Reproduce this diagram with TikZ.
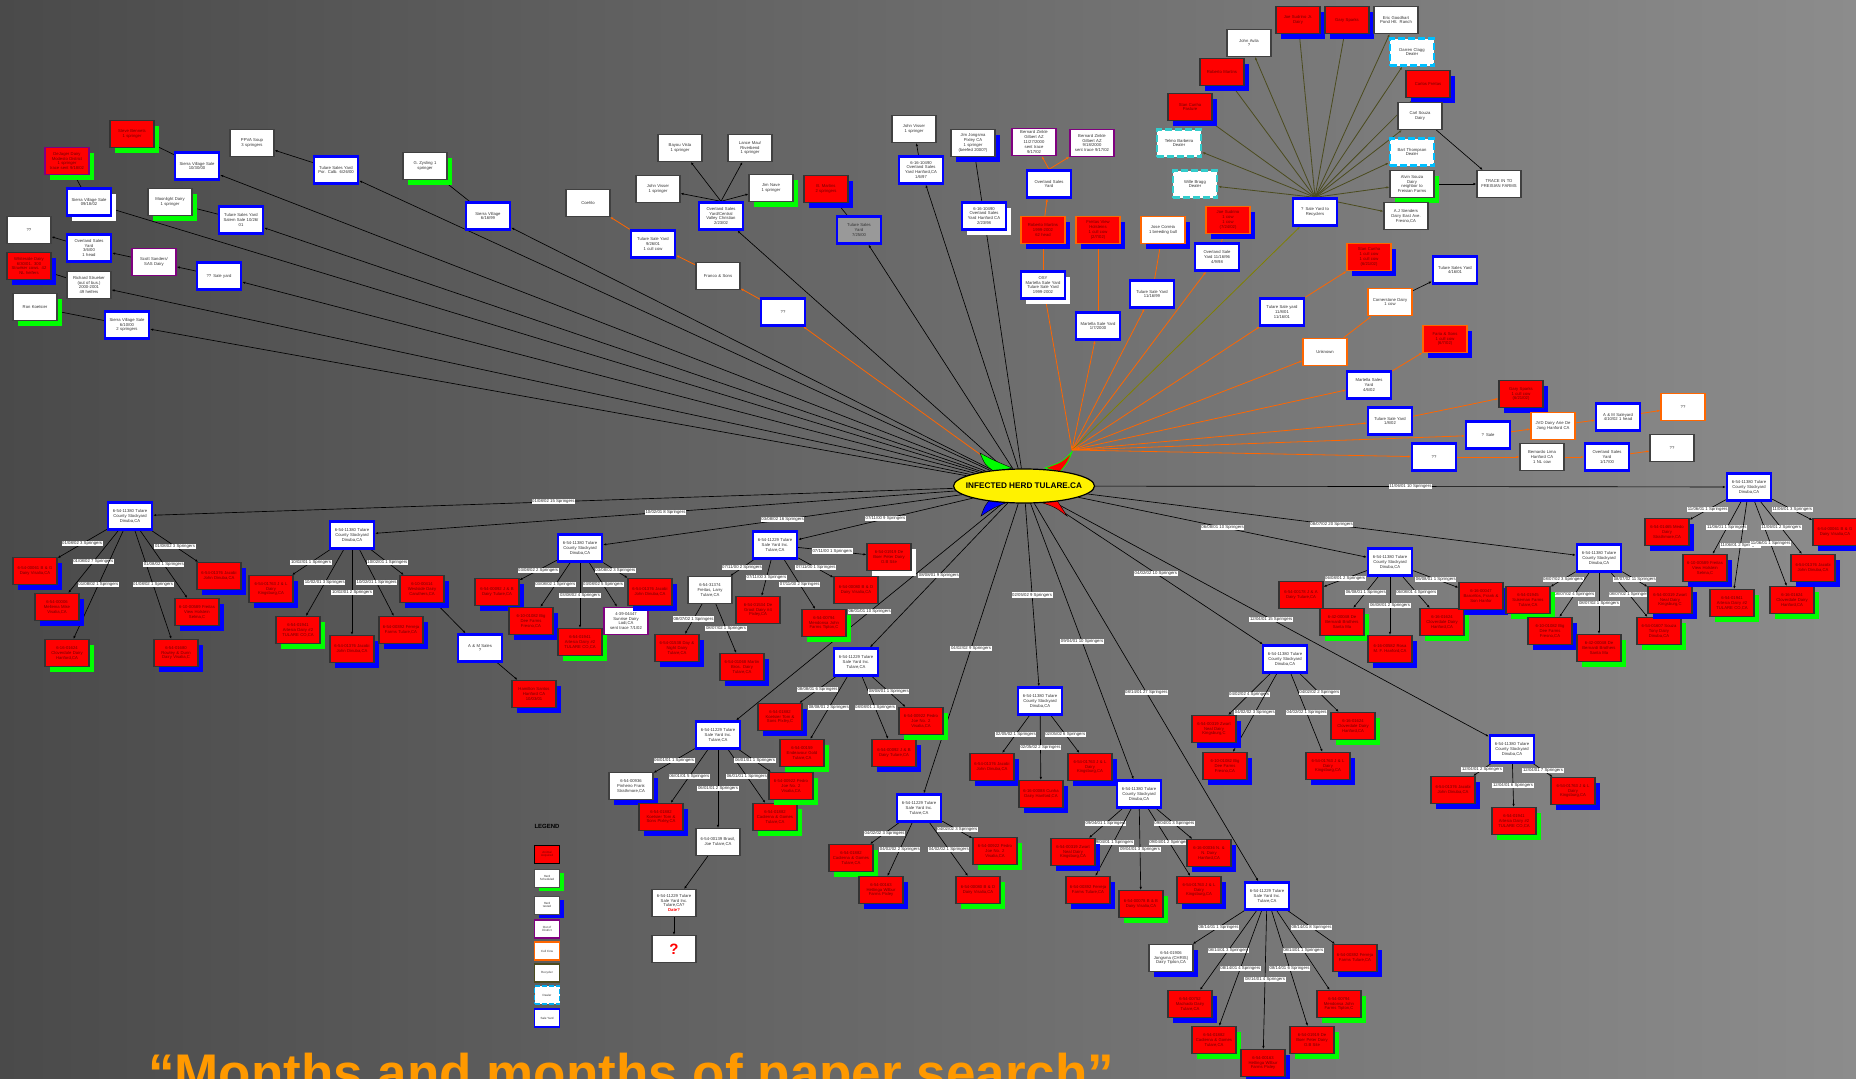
\documentclass[tikz,border=0pt]{standalone}
\usepackage{fontspec}
\setmainfont{Liberation Sans}
\usetikzlibrary{shapes.geometric,arrows.meta,shadows}
\definecolor{bgL}{HTML}{4A4A4A}
\definecolor{bgR}{HTML}{8C8C8C}
\definecolor{yb}{HTML}{0000FF}
\definecolor{yg}{HTML}{00FF00}
\definecolor{orl}{HTML}{FF6600}
\definecolor{pu}{HTML}{800080}
\definecolor{cy}{HTML}{33CCCC}
\definecolor{cyb}{HTML}{00BFFF}
\definecolor{ol}{HTML}{4B4B1E}
\definecolor{olb}{HTML}{808000}
\definecolor{dr}{HTML}{700000}
\definecolor{tor}{HTML}{FF9900}
\pgfdeclarelayer{bg}
\pgfdeclarelayer{edges}
\pgfsetlayers{bg,edges,main}
\tikzset{
 bx/.style={rectangle, minimum width=44pt, minimum height=27pt, inner sep=0.8pt, text width=42pt, align=center, font=\fontsize{4.2}{4.9}\selectfont},
 yard/.style={bx, fill=white, draw=yb, line width=2.4pt, text=black!80},
 wht/.style={bx, fill=white, draw=black!75, line width=1.1pt, text=black!80},
 rd/.style={bx, fill=red, draw=black!80, line width=1.1pt, text=dr},
 pur/.style={bx, fill=white, draw=pu, line width=1.6pt, text=black!80},
 cull/.style={bx, fill=white, draw=orl, line width=1.5pt, text=black!80},
 cullr/.style={cull, fill=red, text=dr},
 dlr/.style={bx, fill=white, draw=cy, line width=2.6pt, dash pattern=on 7pt off 3pt, text=black!80},
 bsh/.style={drop shadow={fill=yb, opacity=1, shadow xshift=5pt, shadow yshift=-5pt}},
 gsh/.style={drop shadow={fill=yg, opacity=1, shadow xshift=5pt, shadow yshift=-5pt}},
 wsh/.style={drop shadow={fill=white, opacity=1, shadow xshift=5pt, shadow yshift=-5pt}},
 lbsh/.style={drop shadow={fill=yb, opacity=1, shadow xshift=4pt, shadow yshift=-4pt}},
 lgsh/.style={drop shadow={fill=yg, opacity=1, shadow xshift=4pt, shadow yshift=-4pt}},
 ar/.style={-{Latex[length=3pt,width=2.4pt]}, line width=0.65pt, draw=black},
 oar/.style={ar, draw=orl, line width=0.8pt},
 olar/.style={ar, draw=ol, line width=0.8pt},
 lab/.style={fill=white, inner sep=0.6pt, font=\fontsize{4.3}{4.3}\selectfont, text=black!85},
 lg/.style={rectangle, minimum width=25pt, minimum height=18pt, inner sep=0.3pt, align=center, fill=white, text=black!80, font=\fontsize{3}{3.5}\selectfont},
}
\newcommand\tedge[3]{\draw[ar] (#1) -- node[lab]{#3} (#2);}
\begin{document}
\begin{tikzpicture}[x=1pt,y=-1pt]
\useasboundingbox (0,0) rectangle (1856,1079);
\begin{pgfonlayer}{bg}
\shade[left color=bgL, right color=bgR] (0,0) rectangle (1856,1079);
\end{pgfonlayer}

% ---------- centre ----------
\fill[yg, draw=black, line width=0.4pt] (995,472) .. controls (985,465) .. (980,453) .. controls (993,460) .. (1012,468) -- cycle;
\fill[yb, draw=black, line width=0.4pt] (992,498) .. controls (985,505) .. (981,516) .. controls (993,508) .. (1008,502) -- cycle;
\fill[red, draw=yg, line width=0.8pt] (1045,468) .. controls (1062,462) .. (1072,452) .. controls (1068,462) .. (1060,472) -- cycle;
\fill[red, draw=black, line width=0.4pt] (1040,502) .. controls (1055,507) .. (1067,516) .. controls (1060,505) .. (1056,499) -- cycle;
\node[ellipse, fill=yellow, draw=black, line width=1.2pt, minimum width=141pt, minimum height=34pt, inner sep=0pt, font=\bfseries\fontsize{8.2}{9}\selectfont] (c) at (1024,486) {\makebox[0pt]{INFECTED HERD TULARE.CA}};
\coordinate (ho) at (1072,450);

% ---------- upper left ----------
\node[yard] (sv1) at (197,166) {Sierra Village Sale\\10/30/00};
\node[rd,gsh] (sb) at (132,134) {Steve Bennets\\1 springer};
\node[yard] (tsy1) at (336,170) {Tulare Sales Yard\\Por. Calb. 6/26/00};
\node[wht] (ppva) at (252,143) {PPVA Soup\\3 springers};
\node[yard,wsh] (sv2) at (89,202) {Sierra Village Sale\\09/18/02};
\node[rd,draw=pu,line width=1.6pt,gsh] (dej) at (67,161) {DeJager Dairy\\Modesto District\\1 springer\\trace sent 9/18/02};
\node[yard] (tsy2) at (241,220) {Tulare Sales Yard\\Salem Sale 10/26/\\01};
\node[wht,gsh] (moon) at (170,202) {Moonlight Dairy\\1 springer};
\node[wht] (q1) at (29,230) {??};
\node[yard] (osy1) at (89,248) {Overland Sales\\Yard\\3/6/00\\1 head};
\node[pur] (scott) at (154,262) {Scott Sanders/\\SAS Dairy};
\node[yard] (qsy) at (219,276) {?? Sale yard};
\node[rd,bsh] (whi) at (29,266) {Whiteside Dairy\\6/30/01. 300\\Strueker cows. 42\\NL heifers};
\node[wht] (rich) at (89,285) {Richard Strueker\\(out of bus.)\\2000-2001\\49 heifers};
\node[wht,gsh] (ron) at (35,307) {Ron Koetsier};
\node[yard] (sv3) at (127,325) {Sierra Village Sale\\6/10/00\\2 springers};
\node[yard] (sv4) at (488,216) {Sierra Village\\6/16/99};
\node[wht,gsh] (zys) at (425,166) {G. Zysling 1\\springer};

% ---------- top middle ----------
\node[wht] (coe) at (588,203) {Coehlo};
\node[yard] (tsy3) at (653,244) {Tulare Sale Yard\\9/26/01\\1 cull cow};
\node[wht] (franco) at (718,276) {Franco \& Sons};
\node[yard] (q2) at (783,312) {??};
\node[wht] (bayou) at (680,148) {Bayou Vista\\1 springer};
\node[wht] (lance) at (750,148) {Lance Mau/\\Riverbend\\1 springer};
\node[wht] (jv1) at (658,189) {John Visser\\1 springer};
\node[wht,gsh] (jim) at (771,188) {Jim Nave\\1 springer};
\node[yard] (cvc) at (721,216) {Overland Sales\\Yard/Central\\Valley Christian\\2/23/02};
\node[rd,bsh] (bm) at (826,189) {B. Martins\\2 springers};
\node[yard,fill=gray!80] (tsy4) at (859,230) {Tulare Sales\\Yard\\7/25/00};
\node[wht] (jv2) at (914,129) {John Visser\\1 springer};
\node[yard] (ov1) at (921,170) {6-16-10490\\Overland Sales\\Yard Hanford,CA\\1/6/97};
\node[wht,bsh] (jj) at (973,143) {Jim Jongsma\\Pixley CA\\1 springer\\(beefed 2000?)};
\node[yard,wsh] (ov2) at (984,216) {6-16-10490\\Overland Sales\\Yard Hanford CA\\2/23/98};

% ---------- orange group ----------
\node[pur] (bz1) at (1034,142) {Bernard Zinkle\\Gilbert AZ\\11/27/2000\\sent trace\\9/17/02};
\node[pur] (bz2) at (1092,143) {Bernard Zinkle\\Gilbert AZ\\9/18/2000\\sent trace 9/17/02};
\node[yard] (osy2) at (1049,184) {Overland Sales\\Yard};
\node[cullr,bsh] (rm1) at (1043,230) {Roberto Martins\\1999-2002\\62 head};
\node[cullr,bsh] (fv) at (1098,230) {Freitas View\\Holsteins\\1 cull cow\\(2/7/02)};
\node[cull,bsh] (jc) at (1163,230) {Jose Correia\\1 breeding bull};
\node[cullr,bsh] (js) at (1228,220) {Joe Sudrino\\1 cow\\1 cow\\(7/24/02)};
\node[yard] (osy3) at (1217,257) {Overland Sale\\Yard 11/16/96\\4/9/98};
\node[yard,wsh] (osyt) at (1043,285) {OSY\\Martella Sale Yard\\Tulare Sale Yard\\1999-2002};
\node[yard] (msy1) at (1098,326) {Martella Sale Yard\\1/7/2000};
\node[yard] (tsy5) at (1152,294) {Tulare Sale Yard\\11/16/99};

% ---------- recycler group ----------
\node[yard] (rec) at (1315,212) {? Sale Yard to\\Recyclers};
\node[dlr] (telmo) at (1179,143) {Telmo Barbeira\\Dealer};
\node[dlr] (wille) at (1195,184) {Wille Bragg\\Dealer};
\node[rd,bsh] (stan1) at (1190,107) {Stan Cunha\\Pasture};
\node[rd,bsh] (rm2) at (1222,72) {Roberto Martins};
\node[wht] (avila) at (1249,43) {John Avila\\?};
\node[rd,bsh] (jsjr) at (1298,20) {Joe Sudrino Jr.\\Dairy};
\node[rd,bsh] (gs1) at (1347,20) {Gary Sparks};
\node[wht] (eric) at (1396,20) {Eric Goodhart\\Pond Hlt. Ranch};
\node[dlr,draw=cyb] (darren) at (1412,52) {Darren Clagg\\Dealer};
\node[rd,bsh] (carlos) at (1428,84) {Carlos Freitas};
\node[wht] (carl) at (1420,116) {Carl Souza\\Dairy};
\node[dlr,draw=cyb] (bart) at (1412,152) {Bart Thompson\\Dealer};
\node[wht,gsh] (alvin) at (1412,184) {Alvin Souza\\Dairy\\neighbor to\\Freisian Farms};
\node[wht] (trace) at (1499,184) {TRACE IN TO\\FREISIAN FARMS};
\node[wht] (aj) at (1406,216) {A.J Sienders\\Dairy East Ave.\\Fresno,CA};

% ---------- right orange group ----------
\node[cullr,bsh] (stan2) at (1369,257) {Stan Cunha\\1 cull cow\\1 cull cow\\(6/21/02)};
\node[yard] (tsy6) at (1455,270) {Tulare Sales Yard\\4/16/01};
\node[yard] (tsy7) at (1282,312) {Tulare Sale yard\\11/8/01\\11/16/01};
\node[cull] (corn) at (1390,302) {Cornerstone Dairy\\1 cow};
\node[cull] (unk) at (1325,352) {Unknown};
\node[cullr,bsh] (faria) at (1445,339) {Faria \& Sons\\1 cull cow\\(6/7/02)};
\node[yard] (msy2) at (1369,385) {Martella Sales\\Yard\\4/6/02};
\node[rd,bsh] (gs2) at (1521,394) {Gary Sparks\\1 cull cow\\(6/21/02)};
\node[yard] (tsy8) at (1390,421) {Tulare Sale Yard\\1/8/02};
\node[yard] (qs) at (1488,435) {? Sale};
\node[cull] (jvd) at (1553,426) {JVD Dairy Arie De\\Jong Hanford CA};
\node[yard] (am) at (1618,417) {A \& M Saleyard\\4/10/02 1 head};
\node[cull] (q3) at (1683,407) {??};
\node[yard] (q4) at (1434,457) {??};
\node[wht] (lima) at (1542,457) {Bernardo Lima\\Hanford CA\\1 NL cow};
\node[yard] (osy4) at (1607,457) {Overland Sales\\Yard\\1/17/00};
\node[wht] (q5) at (1672,448) {??};

% ---------- tree roots ----------
\node[yard] (A) at (130,516) {6-54-11380 Tulare\\County Stockyard\\Dinuba,CA};
\node[yard] (B) at (352,535) {6-54-11380 Tulare\\County Stockyard\\Dinuba,CA};
\node[yard] (C) at (580,548) {6-54-11380 Tulare\\County Stockyard\\Dinuba,CA};
\node[yard] (D) at (775,545) {6-54-11229 Tulare\\Sale Yard Inc.\\Tulare,CA};
\node[yard] (E) at (856,662) {6-54-11229 Tulare\\Sale Yard Inc.\\Tulare,CA};
\node[yard] (F) at (718,735) {6-54-11229 Tulare\\Sale Yard Inc.\\Tulare,CA};
\node[yard] (G) at (919,808) {6-54-11229 Tulare\\Sale Yard Inc.\\Tulare,CA};
\node[yard] (H) at (1040,701) {6-54-11380 Tulare\\County Stockyard\\Dinuba,CA};
\node[yard] (J) at (1139,794) {6-54-11380 Tulare\\County Stockyard\\Dinuba,CA};
\node[yard] (I) at (1267,896) {6-54-11229 Tulare\\Sale Yard Inc.\\Tulare,CA};
\node[yard] (K) at (1285,659) {6-54-11380 Tulare\\County Stockyard\\Dinuba,CA};
\node[yard] (L) at (1390,562) {6-54-11380 Tulare\\County Stockyard\\Dinuba,CA};
\node[yard] (M) at (1599,558) {6-54-11380 Tulare\\County Stockyard\\Dinuba,CA};
\node[yard] (N) at (1749,487) {6-54-11380 Tulare\\County Stockyard\\Dinuba,CA};
\node[yard] (O) at (1512,749) {6-54-11380 Tulare\\County Stockyard\\Dinuba,CA};

% ---------- tree leaves ----------
\node[rd,bsh] (a1) at (35,571) {6-54-00061 B \& G\\Dairy Visalia,CA};
\node[rd,bsh] (a2) at (57,607) {6-54-00006\\Mellema  Mike\\Visalia,CA};
\node[rd,gsh] (a3) at (67,653) {6-16-01624\\Cloverdale Dairy\\Hanford,CA};
\node[rd,bsh] (a4) at (176,653) {6-54-01680\\Rowley \& Dunn\\Dairy Visalia,C};
\node[rd,bsh] (a5) at (197,612) {6-10-00589 Freitas\\View Holstein\\Selma,C};
\node[rd,bsh] (a6) at (219,576) {6-54-01376 Jacobi\\John Dinuba,CA};

\node[rd,bsh] (b1) at (271,589) {6-54-01763 J \& L\\Dairy\\Kingsburg,CA};
\node[rd,gsh] (b2) at (298,630) {6-54-01941\\Artesia Dairy \#2\\TULARE CO,CA};
\node[rd,bsh] (b3) at (352,649) {6-54-01376 Jacobi\\John Dinuba,CA};
\node[rd,bsh] (b4) at (401,630) {6-54-00392 Ferreja\\Farms Tulare,CA};
\node[rd,bsh] (b5) at (422,589) {6-10-00414\\Westside Dairy\\Caruthers,CA};
\node[yard] (ams) at (480,648) {A \& M Sales\\?};
\node[rd,bsh] (ham) at (534,694) {Hamilton Santos\\Hanford CA\\10/03/01};

\node[rd,bsh] (c1) at (497,592) {6-54-00092 J \& B\\Dairy Tulare,CA};
\node[rd,bsh] (c2) at (531,621) {6-10-01082 Big\\Dee Farms\\Fresno,CA};
\node[rd,gsh] (c3) at (580,642) {6-54-01941\\Artesia Dairy \#2\\TULARE CO,CA};
\node[pur] (c4) at (626,621) {4-39-04447\\Sunrise Dairy\\Lodi,CA\\sent trace 7/1/02};
\node[rd,bsh] (c5) at (650,592) {6-54-01376 Jacobi\\John Dinuba,CA};

\node[wht] (d1) at (710,590) {6-54-31374\\Freitas, Larry\\Tulare,CA};
\node[rd,bsh] (d11) at (677,648) {6-54-01538 Day \&\\Night Dairy\\Tulare,CA};
\node[rd,bsh] (d12) at (742,667) {6-54-01068 Martin\\Bros. Dairy\\Tulare,CA};
\node[rd] (d2) at (758,610) {6-54-01534 De\\Groot Dairy \#4\\Pixley,CA};
\node[rd,gsh] (d3) at (824,623) {6-54-00794\\Mendonsa  John\\Farms Tipton,C};
\node[rd] (d4) at (856,590) {6-54-00080 B \& D\\Dairy Visalia,CA};
\node[rd,wsh] (d5) at (889,557) {6-54-01919 De\\Boer  Peter Dairy\\O.B Site};

\node[rd,bsh] (e1) at (780,717) {6-54-01882\\Koetsier  Tom \&\\Sons Pixley,C};
\node[rd,gsh] (e2) at (802,753) {6-54-00159\\Endeavour Gold\\Tulare,CA};
\node[rd,bsh] (e3) at (894,753) {6-54-00092 J \& B\\Dairy Tulare,CA};
\node[rd,gsh] (e4) at (921,721) {6-54-00922 Pedro\\Joe No. 2\\Visalia,CA};

\node[wht,bsh] (f1) at (631,786) {6-54-00936\\Pinheiro  Frank\\Strathmore,CA};
\node[rd,bsh] (f2) at (661,817) {6-54-01882\\Koetsier  Tom \&\\Sons Pixley,CA};
\node[wht] (f3) at (718,842) {6-54-00139 Brasil,\\Joe Tulare,CA};
\node[wht] (f31) at (674,903) {6-54-11229 Tulare\\Sale Yard Inc.\\Tulare,CA?\\{\color{red}\bfseries Date?}};
\node[wht,font=\bfseries\fontsize{15}{15}\selectfont,text=red] (f32) at (674,949) {?};
\node[rd,gsh] (f4) at (775,817) {6-54-01882\\Cadierna \& Gomes\\Tulare,CA};
\node[rd,gsh] (f5) at (791,786) {6-54-00922 Pedro\\Joe No. 2\\Visalia,CA};

\node[rd,gsh] (g1) at (851,858) {6-54-01882\\Cadierna \& Gomes\\Tulare,CA};
\node[rd,bsh] (g2) at (881,890) {6-54-00163\\Hettinga  Wilbur\\Farms Pixley};
\node[rd,gsh] (g3) at (978,890) {6-54-00080 B \& D\\Dairy Visalia,CA};
\node[rd,gsh] (g4) at (995,851) {6-54-00922 Pedro\\Joe No. 2\\Visalia,CA};

\node[rd,bsh] (h1) at (992,767) {6-54-01376 Jacobi\\John Dinuba,CA};
\node[rd,bsh] (h2) at (1041,794) {6-16-00088 Cunha\\Dairy Hanford,CA};
\node[rd,bsh] (h3) at (1090,767) {6-54-01763 J \& L\\Dairy\\Kingsburg,CA};

\node[rd,bsh] (j1) at (1073,852) {6-54-00319 Zwart\\Neal Dairy\\Kingsburg,CA};
\node[rd,bsh] (j2) at (1088,890) {6-54-00392 Ferreja\\Farms Tulare,CA};
\node[rd,gsh] (j3) at (1141,904) {6-54-00078 B \& B\\Dairy Visalia,CA};
\node[rd,bsh] (j4) at (1199,890) {6-54-01763 J \& L\\Dairy\\Kingsburg,CA};
\node[rd,bsh] (j5) at (1209,853) {6-16-00036 N. \&\\N.  Dairy\\Hanford,CA};

\node[wht,bsh] (i1) at (1171,958) {6-54-01906\\Jongsma (CHRIS)\\Dairy Tipton,CA};
\node[rd,bsh] (i2) at (1190,1004) {6-54-00752\\Machado Dairy\\Tulare,CA};
\node[rd,gsh] (i3) at (1214,1040) {6-54-01882\\Cadierna \& Gomes\\Tulare,CA};
\node[rd,bsh] (i4) at (1263,1063) {6-54-00163\\Hettinga  Wilbur\\Farms Pixley};
\node[rd,gsh] (i5) at (1312,1040) {6-54-01919 De\\Boer  Peter Dairy\\O.B Site};
\node[rd,gsh] (i6) at (1339,1004) {6-54-00794\\Mendonsa  John\\Farms Tipton,C};
\node[rd,bsh] (i7) at (1355,958) {6-54-00392 Ferreja\\Farms Tulare,CA};

\node[rd,bsh] (k1) at (1214,729) {6-54-00319 Zwart\\Neal Dairy\\Kingsburg,C};
\node[rd,bsh] (k2) at (1225,766) {6-10-01082 Big\\Dee Farms\\Fresno,CA};
\node[rd,bsh] (k3) at (1328,766) {6-54-01763 J \& L\\Dairy\\Kingsburg,CA};
\node[rd,gsh] (k4) at (1353,726) {6-16-01624\\Cloverdale Dairy\\Hanford,CA};

\node[rd] (l1) at (1301,595) {6-54-00178 J \& A\\Dairy Tulare,CA};
\node[rd,gsh] (l2) at (1342,622) {6-42-00048 De\\Bernardi Brothers\\Santa Ma};
\node[rd,bsh] (l3) at (1390,649) {6-16-00582 Rosa\\M. F. Hanford,CA};
\node[rd,gsh] (l4) at (1442,622) {6-16-01624\\Cloverdale Dairy\\Hanford,CA};
\node[rd,bsh] (l5) at (1481,596) {6-16-00047\\Barcellos, Frank \&\\Son Hanfor};

\node[rd,gsh] (m1) at (1528,600) {6-54-01945\\Sukeman Farms\\Tulare,CA};
\node[rd,bsh] (m2) at (1550,631) {6-10-01082 Big\\Dee Farms\\Fresno,CA};
\node[rd,gsh] (m3) at (1599,648) {6-42-00048 De\\Bernardi Brothers\\Santa Ma};
\node[rd,gsh] (m4) at (1659,631) {6-54-01607 Souza\\Tony Dairy\\Dinuba,CA};
\node[rd,bsh] (m5) at (1670,600) {6-54-00319 Zwart\\Neal Dairy\\Kingsburg,C};

\node[rd,bsh] (n1) at (1667,532) {6-54-01465 Medo\\Dairy\\Strathmore,CA};
\node[rd,bsh] (n2) at (1705,568) {6-10-00589 Freitas\\View Holstein\\Selma,C};
\node[rd,gsh] (n3) at (1732,603) {6-54-01941\\Artesia Dairy \#2\\TULARE CO,CA};
\node[rd,gsh] (n4) at (1792,600) {6-16-01624\\Cloverdale Dairy\\Hanford,CA};
\node[rd,bsh] (n5) at (1813,568) {6-54-01376 Jacobi\\John Dinuba,CA};
\node[rd,bsh] (n6) at (1835,532) {6-54-00061 B \& G\\Dairy Visalia,CA};

\node[rd,bsh] (o1) at (1453,790) {6-54-01376 Jacobi\\John Dinuba,CA};
\node[rd,gsh] (o2) at (1514,821) {6-54-01941\\Artesia Dairy \#2\\TULARE CO,CA};
\node[rd,bsh] (o3) at (1573,791) {6-54-01763 J \& L\\Dairy\\Kingsburg,CA};

% ---------- legend ----------
\node[font=\bfseries\fontsize{6}{6}\selectfont, text=black] (legT) at (547,826) {LEGEND};
\node[lg, fill=red, draw=black, line width=0.8pt, text=dr] (lg1) at (547,854) {Animal\\Acquired};
\node[lg, draw=black!70, line width=0.8pt, lgsh] (lg2) at (547,878) {Herd\\Scheduled};
\node[lg, draw=black!70, line width=0.8pt, lbsh] (lg3) at (547,905) {Herd\\tested};
\node[lg, draw=pu, line width=1.2pt] (lg4) at (547,929) {Out of\\District};
\node[lg, draw=orl, line width=1.2pt] (lg5) at (547,951) {Cull Cow};
\node[lg, draw=ol, line width=1.2pt] (lg6) at (547,973) {Recycler};
\node[lg, draw=cyan, line width=1.6pt, dash pattern=on 5pt off 2pt] (lg7) at (547,995) {Dealer};
\node[lg, draw=yb, line width=1.6pt] (lg8) at (547,1018) {Sale Yard};

% ---------- title ----------
\node[anchor=base west, inner sep=0pt, text=tor, font=\bfseries\fontsize{53}{53}\selectfont] (title) at (148,1091) {“Months and months of paper search”};

% ---------- edges ----------
\begin{pgfonlayer}{edges}
% upper left
\draw[ar] (c) -- (sv1); \draw[ar] (sv1) -- (sb);
\draw[ar] (c) -- (tsy1); \draw[ar] (tsy1) -- (ppva);
\draw[ar] (c) -- (sv2); \draw[ar] (sv2) -- (dej);
\draw[ar] (c) -- (tsy2); \draw[ar] (tsy2) -- (moon);
\draw[ar] (c) -- (qsy); \draw[ar] (qsy) -- (scott); \draw[ar] (scott) -- (osy1); \draw[ar] (osy1) -- (q1);
\draw[ar] (c) -- (rich); \draw[ar] (rich) -- (whi);
\draw[ar] (c) -- (sv3); \draw[ar] (sv3) -- (ron);
\draw[ar] (c) -- (sv4); \draw[ar] (sv4) -- (zys);
% top middle
\draw[oar] (c) -- (q2); \draw[oar] (q2) -- (franco); \draw[oar] (franco) -- (tsy3); \draw[oar] (tsy3) -- (coe);
\draw[ar] (c) -- (cvc);
\foreach \t in {bayou,lance,jv1,jim} \draw[ar] (cvc.north) -- (\t);
\draw[ar] (c) -- (tsy4); \draw[ar] (tsy4) -- (bm);
\draw[ar] (c) -- (ov1); \draw[ar] (ov1) -- (jv2);
\draw[ar] (c) -- (ov2); \draw[ar] (ov2) -- (jj);
% orange
\draw[oar] (ho) -- (osyt); \draw[oar] (osyt) -- (rm1); \draw[oar] (rm1) -- (osy2);
\draw[oar] (osy2.north) -- (bz1); \draw[oar] (osy2.north) -- (bz2);
\draw[oar] (ho) -- (msy1); \draw[oar] (msy1) -- (fv);
\draw[oar] (ho) -- (tsy5); \draw[oar] (tsy5) -- (jc);
\draw[oar] (ho) -- (osy3); \draw[oar] (osy3) -- (js);
\draw[ar, draw=olb, line width=0.8pt] (ho) -- (rec);
\foreach \t in {telmo,wille,stan1,rm2,avila,jsjr,gs1,eric,darren,carlos,carl,bart,alvin,aj} \draw[olar] (rec.north) -- (\t);
\draw[ar] (carl) -- (trace); \draw[ar] (alvin) -- (trace);
\draw[oar] (ho) -- (tsy7); \draw[oar] (tsy7) -- (stan2);
\draw[oar] (ho) -- (unk); \draw[oar] (unk) -- (corn); \draw[ar] (corn) -- (tsy6);
\draw[oar] (ho) -- (msy2); \draw[oar] (msy2) -- (faria);
\draw[oar] (ho) -- (tsy8); \draw[oar] (tsy8) -- (gs2);
\draw[oar] (ho) -- (qs); \draw[oar] (qs) -- (jvd); \draw[oar] (jvd) -- (am); \draw[oar] (am) -- (q3);
\draw[oar] (ho) -- (q4); \draw[oar] (q4) -- (lima); \draw[oar] (lima) -- (osy4); \draw[oar] (osy4) -- (q5);
% main tree edges
\tedge{c}{A}{01/08/02 15 Springers}
\tedge{c}{B}{10/02/01 8 Springers}
\tedge{c}{C}{03/08/02 16 Springers}
\tedge{c}{D}{07/11/00 9 Springers}
\tedge{c}{E}{08/08/01 9 Springers}
\tedge{c}{F}{06/01/01 10 Springers}
\tedge{c}{G}{04/02/02 9 Springers}
\tedge{c}{H}{02/05/02 9 Springers}
\tedge{c}{J}{09/04/01 10 Springers}
\tedge{c}{I}{08/14/01 27 Springers}
\tedge{c}{K}{04/02/02 10 Springers}
\tedge{c}{L}{06/08/01 10 Springers}
\tedge{c}{M}{08/07/02 20 Springers}
\tedge{c}{N}{11/06/01 10 Springers}
\tedge{c}{O}{12/04/01 15 Springers}
% A
\tedge{A}{a1}{01/08/02 3 Springers}
\tedge{A}{a2}{01/08/02 7 Springers}
\tedge{A}{a3}{01/08/02 1 Springers}
\tedge{A}{a4}{01/08/02 1 Springers}
\tedge{A}{a5}{01/08/02 1 Springers}
\tedge{A}{a6}{01/08/02 3 Springers}
% B
\tedge{B}{b1}{10/02/01 1 Springers}
\tedge{B}{b2}{10/02/01 3 Springers}
\tedge{B}{b3}{10/02/01 2 Springers}
\tedge{B}{b4}{10/02/01 1 Springers}
\tedge{B}{b5}{10/02/01 1 Springers}
\draw[ar] (b5) -- (ams); \draw[ar] (ams) -- (ham);
% C
\tedge{C}{c1}{03/08/02 2 Springers}
\tedge{C}{c2}{03/08/02 1 Springers}
\tedge{C}{c3}{03/08/02 4 Springers}
\tedge{C}{c4}{03/08/02 5 Springers}
\tedge{C}{c5}{03/08/02 3 Springers}
% D
\tedge{D}{d1}{07/11/00 2 Springers}
\tedge{d1}{d11}{08/07/02 1 Springers}
\tedge{d1}{d12}{08/07/02 1 Springers}
\tedge{D}{d2}{07/11/00 3 Springers}
\tedge{D}{d3}{07/11/00 2 Springers}
\tedge{D}{d4}{07/11/00 1 Springers}
\tedge{D}{d5}{07/11/00 1 Springers}
% E
\tedge{E}{e1}{08/08/01 6 Springers}
\tedge{E}{e2}{08/08/01 2 Springers}
\tedge{E}{e3}{08/08/01 1 Springers}
\tedge{E}{e4}{08/08/01 1 Springers}
% F
\tedge{F}{f1}{06/01/01 1 Springers}
\tedge{F}{f2}{06/01/01 5 Springers}
\tedge{F}{f3}{06/01/01 2 Springers}
\tedge{F}{f4}{06/01/01 1 Springers}
\tedge{F}{f5}{06/01/01 1 Springers}
\draw[ar] (f3) -- (f31); \draw[ar] (f31) -- (f32);
% G
\tedge{G}{g1}{04/02/02 3 Springers}
\tedge{G}{g2}{04/02/02 2 Springers}
\tedge{G}{g3}{04/02/02 1 Springers}
\tedge{G}{g4}{04/02/02 3 Springers}
% H
\tedge{H}{h1}{02/05/02 1 Springers}
\tedge{H}{h2}{02/05/02 2 Springers}
\tedge{H}{h3}{02/05/02 6 Springers}
% J
\tedge{J}{j1}{09/04/01 1 Springers}
\tedge{J}{j2}{09/04/01 1 Springers}
\tedge{J}{j3}{09/04/01 3 Springers}
\tedge{J}{j4}{09/04/01 2 Springers}
\tedge{J}{j5}{09/04/01 3 Springers}
% I
\tedge{I}{i1}{08/14/01 1 Springers}
\tedge{I}{i2}{08/14/01 3 Springers}
\tedge{I}{i3}{08/14/01 4 Springers}
\tedge{I}{i4}{08/14/01 4 Springers}
\tedge{I}{i5}{08/14/01 6 Springers}
\tedge{I}{i6}{08/14/01 1 Springers}
\tedge{I}{i7}{08/14/01 8 Springers}
% K
\tedge{K}{k1}{04/02/02 4 Springers}
\tedge{K}{k2}{04/02/02 3 Springers}
\tedge{K}{k3}{04/02/02 1 Springers}
\tedge{K}{k4}{04/02/02 2 Springers}
% L
\tedge{L}{l1}{06/08/01 2 Springers}
\tedge{L}{l2}{06/08/01 1 Springers}
\tedge{L}{l3}{06/08/01 2 Springers}
\tedge{L}{l4}{06/08/01 4 Springers}
\tedge{L}{l5}{06/08/01 1 Springers}
% M
\tedge{M}{m1}{08/07/02 3 Springers}
\tedge{M}{m2}{08/07/02 4 Springers}
\tedge{M}{m3}{08/07/02 1 Springers}
\tedge{M}{m4}{08/07/02 1 Springers}
\tedge{M}{m5}{08/07/02 11 Springers}
% N
\tedge{N}{n1}{11/06/01 1 Springers}
\tedge{N}{n2}{11/06/01 1 Springers}
\tedge{N}{n3}{11/06/01 2 Springers}
\tedge{N}{n4}{11/06/01 1 Springers}
\tedge{N}{n5}{11/06/01 2 Springers}
\tedge{N}{n6}{11/06/01 3 Springers}
% O
\tedge{O}{o1}{12/04/01 2 Springers}
\tedge{O}{o2}{12/04/01 6 Springers}
\tedge{O}{o3}{12/04/01 7 Springers}
\end{pgfonlayer}
\end{tikzpicture}
\end{document}
